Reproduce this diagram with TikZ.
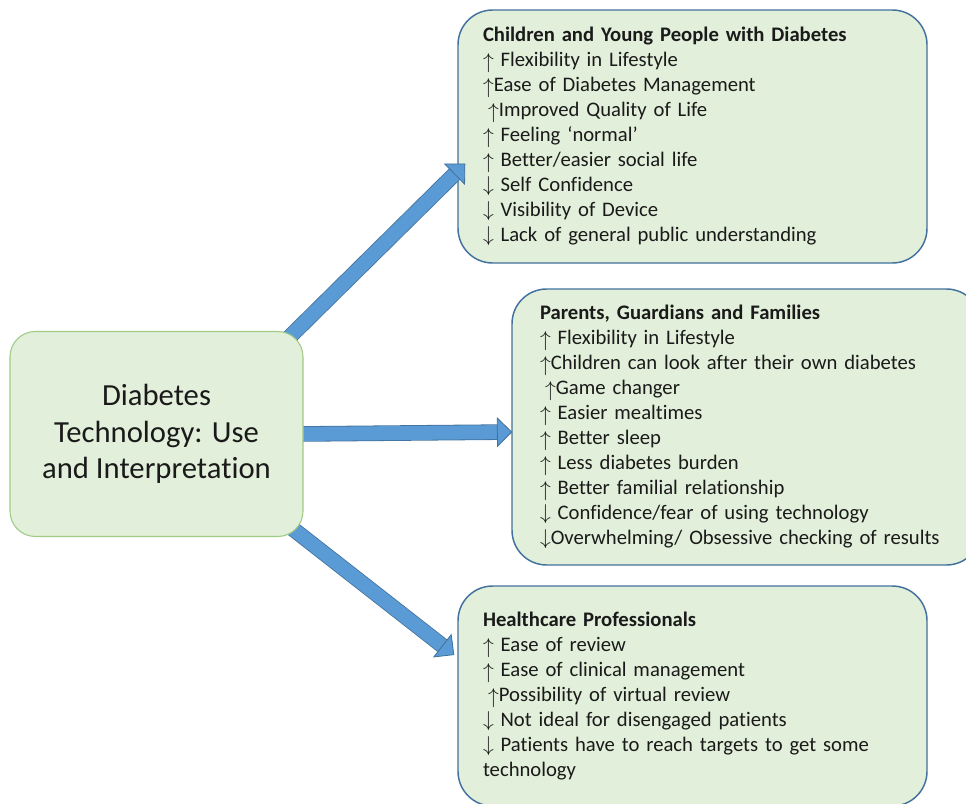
\documentclass[tikz,border=0pt]{standalone}
\usepackage{fontspec}
\setmainfont{Carlito}[Ligatures={TeX,NoCommon}]
\usetikzlibrary{arrows.meta,backgrounds}

\definecolor{boxfill}{HTML}{E2EFDA}
\definecolor{hubedge}{HTML}{9FCB85}
\definecolor{boxedge}{HTML}{41719C}
\definecolor{arrowfill}{HTML}{5B9BD5}
\definecolor{inktext}{HTML}{1A1A1A}

\newcommand{\UP}{\raisebox{-0.08em}{\scalebox{1.12}{$\uparrow$}}}
\newcommand{\DN}{\raisebox{-0.02em}{\scalebox{1.12}{$\downarrow$}}}

\tikzset{
  hubbox/.style={draw=hubedge, line width=0.8pt, fill=boxfill, rounded corners=19pt,
    minimum width=219.75pt, minimum height=153.75pt, align=center, text=inktext,
    font=\fontsize{23}{27.5}\selectfont},
  groupbox/.style={draw=boxedge, line width=1.1pt, fill=boxfill, rounded corners=26pt,
    align=left, text=inktext, inner ysep=0pt, font=\fontsize{15.5}{18.75}\selectfont},
  fatarrow/.style={line width=10.5pt, draw=arrowfill,
    -{Triangle[width=22.5pt 0 0, length=11.5pt 0 0, line width=0.6pt, fill=arrowfill, color=boxedge]},
    preaction={draw=boxedge, line width=11.7pt, -, shorten >=10pt}}
}

\begin{document}
\begin{tikzpicture}[x=0.75pt,y=-0.75pt]
    \useasboundingbox (0,0) rectangle (966,803);
    % central topic
    \node[hubbox] (hub) at (156.5,434) {Diabetes\\Technology: Use\\and Interpretation};
    \begin{pgfonlayer}{background}
    % the three groups
    \node[groupbox, inner xsep=18.75pt, text width=314.25pt, minimum height=189.75pt] (cyp) at (692.5,136.5)
      {\textbf{Children and Young People with Diabetes}\\
       \UP\ Flexibility in Lifestyle\\
       \UP Ease of Diabetes Management\\
       \hspace*{0.25em}\UP Improved Quality of Life\\
       \UP\ Feeling ‘normal’\\
       \UP\ Better/easier social life\\
       \DN\ Self Confidence\\
       \DN\ Visibility of Device\\
       \DN\ Lack of general public understanding};
    \node[groupbox, inner xsep=21pt, text width=309.75pt, minimum height=207pt] (fam) at (746.5,427)
      {\textbf{Parents, Guardians and Families}\\
       \UP\ Flexibility in Lifestyle\\
       \UP Children can look after their own diabetes\\
       \hspace*{0.25em}\UP Game changer\\
       \UP\ Easier mealtimes\\
       \UP\ Better sleep\\
       \UP\ Less diabetes burden\\
       \UP\ Better familial relationship\\
       \DN\ Confidence/fear of using technology\\
       \DN Overwhelming/ Obsessive checking of results};
    \node[groupbox, inner xsep=18.75pt, text width=314.25pt, minimum height=165pt] (hcp) at (692.5,696)
      {\textbf{Healthcare Professionals}\\
       \UP\ Ease of review\\
       \UP\ Ease of clinical management\\
       \hspace*{0.25em}\UP Possibility of virtual review\\
       \DN\ Not ideal for disengaged patients\\
       \DN\ Patients have to reach targets to get some\\
       technology};
    % block arrows
    \draw[fatarrow] ([shift={(-18,10)}]hub.north east) -- ([shift={(8,27)}]cyp.west);
    \draw[fatarrow] ([shift={(-6,0)}]hub.east) -- ([shift={(1,5)}]fam.west);
    \draw[fatarrow] ([shift={(-13,-10)}]hub.south east) -- ([shift={(-3,-41)}]hcp.west);
    \end{pgfonlayer}
\end{tikzpicture}
\end{document}
